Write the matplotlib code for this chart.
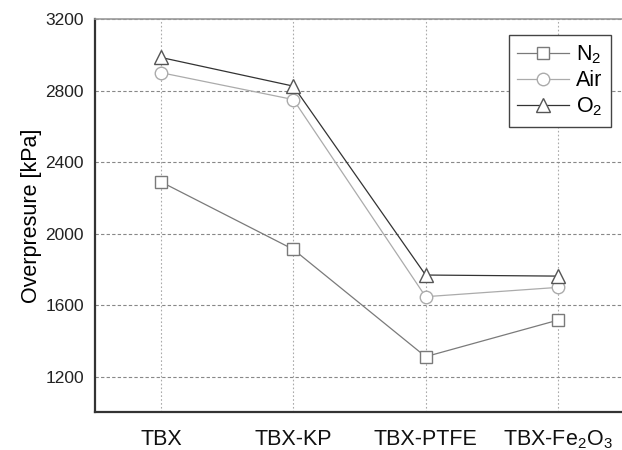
import matplotlib
matplotlib.use('Agg')
import matplotlib.pyplot as plt

plt.rcParams['font.family'] = ['Liberation Sans', 'DejaVu Sans']
plt.rcParams['mathtext.fontset'] = 'custom'
plt.rcParams['mathtext.rm'] = 'Liberation Sans'

# ------------ DANE ------------- #
categories = ['TBX', 'TBX-KP', 'TBX-PTFE', r'TBX-Fe$\mathregular{_2}$O$\mathregular{_3}$']
n2 = [2290, 1913, 1314, 1518]
air = [2900, 2750, 1649, 1701]
o2 = [2985, 2825, 1770, 1764]
yticks = [1200, 1600, 2000, 2400, 2800, 3200]

# ------------ WYKRES ------------- #
fig = plt.figure(figsize=(6.22, 4.5), dpi=100)
ax = fig.add_axes([95 / 622, 1 - 412 / 450, 529 / 622, 393 / 450])

x = list(range(len(categories)))
ax.plot(x, n2, color='#7a7a7a', lw=0.9, marker='s', ms=8, mfc='white',
        mec='#7a7a7a', mew=1.0, label=r'N$\mathregular{_2}$', zorder=3)
ax.plot(x, air, color='#ababab', lw=0.9, marker='o', ms=9, mfc='white',
        mec='#ababab', mew=1.0, label='Air', zorder=3)
ax.plot(x, o2, color='#333333', lw=0.9, marker='^', ms=10, mfc='white',
        mec='#555555', mew=1.0, label=r'O$\mathregular{_2}$', zorder=3)

ax.set_xlim(-0.5, 3.5)
ax.set_ylim(1005, 3200)
ax.set_xticks(x)
ax.set_xticklabels(categories, fontsize=15.5)
ax.set_yticks(yticks)
ax.tick_params(axis='y', labelsize=12.5, length=0, pad=8, labelcolor='#222222')
ax.tick_params(axis='x', length=0, pad=12, labelcolor='#111111')
ax.set_ylabel('Overpresure [kPa]', fontsize=15.5, labelpad=2)

ax.yaxis.grid(True, ls=(0, (3, 2)), color='#888888', lw=0.8)
ax.xaxis.grid(True, ls=(0, (1.5, 2)), color='#aaaaaa', lw=0.8)
ax.set_axisbelow(True)

for s in ['left', 'bottom']:
    ax.spines[s].set_linewidth(1.6)
    ax.spines[s].set_color('#333333')
ax.spines['top'].set_linewidth(1.2)
ax.spines['top'].set_color('#999999')
ax.spines['right'].set_visible(False)

leg = ax.legend(loc='upper right', bbox_to_anchor=(0.975, 0.96), borderaxespad=0,
                fontsize=15.5, fancybox=False, framealpha=1, edgecolor='#444444',
                handlelength=2.4, handletextpad=0.3, labelspacing=0.2,
                borderpad=0.4)
leg.get_frame().set_linewidth(1.0)

fig.savefig('out.png', dpi=100)
